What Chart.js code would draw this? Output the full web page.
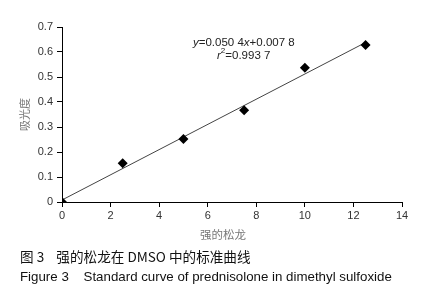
<!DOCTYPE html>
<html><head><meta charset="utf-8">
<script src="https://cdn.jsdelivr.net/npm/chart.js@4/dist/chart.umd.min.js"></script>
<style>html,body{margin:0;padding:0;background:#fff}#wrap{width:421px;height:300px}</style>
</head><body><div id="wrap"><canvas id="c" width="421" height="300"></canvas></div>
<script>
const concentrations = [0, 2.5, 5, 7.5, 10, 12.5];
const absorbance = [0, 0.155, 0.252, 0.367, 0.537, 0.628];
const trendX = [0, 12.5];
const trendY = [0.008, 0.638];
const xTicks = [0, 2, 4, 6, 8, 10, 12, 14];
const yTicks = [0, 0.1, 0.2, 0.3, 0.4, 0.5, 0.6, 0.7];
const xTitle = '强的松龙';
const yTitle = '吸光度';
const eqLine1 = ['y', '=0.050 4', 'x', '+0.007 8'];
const eqLine2 = 'r²=0.993 7';
const caption1 = '图 3    强的松龙在 DMSO 中的标准曲线';
const caption2 = 'Figure 3    Standard curve of prednisolone in dimethyl sulfoxide';

const FONT = '"Liberation Sans", Arial, "Noto Sans CJK SC", sans-serif';

const extras = {
  id: 'extras',
  afterDraw(chart) {
    const ctx = chart.ctx;
    const area = chart.chartArea;
    ctx.save();
    // y title
    ctx.fillStyle = '#777';
    ctx.font = '11px "Noto Sans CJK SC", sans-serif';
    ctx.textAlign = 'center';
    ctx.textBaseline = 'middle';
    ctx.save();
    ctx.translate(25, (area.top + area.bottom) / 2);
    ctx.rotate(-Math.PI / 2);
    ctx.fillText(yTitle, 0, 0);
    ctx.restore();
    // x title
    ctx.font = '11.5px "Noto Sans CJK SC", sans-serif';
    ctx.fillText(xTitle, 223, 235);
    // equation
    ctx.fillStyle = '#222';
    ctx.textAlign = 'left';
    let x = 193;
    const styles = ['italic ', '', 'italic ', ''];
    eqLine1.forEach((t, i) => {
      ctx.font = styles[i] + '11.5px ' + FONT;
      ctx.fillText(t, x, 43);
      x += ctx.measureText(t).width;
    });
    ctx.font = 'italic 11.5px ' + FONT;
    ctx.fillText('r', 217, 56);
    let rw = ctx.measureText('r').width;
    ctx.font = '8px ' + FONT;
    ctx.fillText('2', 217 + rw, 51);
    let w2 = ctx.measureText('2').width;
    ctx.font = '11.5px ' + FONT;
    ctx.fillText(eqLine2.slice(2), 217 + rw + w2, 56);
    // captions
    ctx.fillStyle = '#111';
    ctx.font = '13.6px "Noto Sans CJK SC", ' + FONT;
    ctx.fillText(caption1, 20, 257);
    ctx.font = '13.3px ' + FONT;
    ctx.fillText(caption2, 20, 277);
    ctx.restore();
  }
};

new Chart(document.getElementById('c'), {
  type: 'scatter',
  data: {
    datasets: [
      {
        type: 'line',
        data: trendX.map((v, i) => ({x: v, y: trendY[i]})),
        borderColor: '#444',
        borderWidth: 1,
        pointRadius: 0,
        fill: false,
        order: 2
      },
      {
        data: concentrations.map((v, i) => ({x: v, y: absorbance[i]})),
        pointStyle: 'rectRot',
        pointRadius: 5,
        backgroundColor: '#000',
        borderColor: '#000',
        borderWidth: 0,
        order: 1
      }
    ]
  },
  options: {
    responsive: false,
    animation: false,
    events: [],
    layout: {padding: {left: 0, right: 19, top: 27, bottom: 58}},
    plugins: {legend: {display: false}, tooltip: {enabled: false}},
    scales: {
      x: {
        type: 'linear', min: 0, max: 14,
        afterBuildTicks(s) { s.ticks = xTicks.map(v => ({value: v})); },
        afterFit(s) { s.height = 40; },
        grid: {drawOnChartArea: false, drawTicks: true, tickLength: 5, color: '#000'},
        border: {color: '#000', width: 1},
        ticks: {color: '#333', font: {family: FONT, size: 11}, padding: 2, maxRotation: 0}
      },
      y: {
        type: 'linear', min: 0, max: 0.7,
        afterBuildTicks(s) { s.ticks = yTicks.map(v => ({value: v})); },
        afterFit(s) { s.width = 62; },
        grid: {drawOnChartArea: false, drawTicks: true, tickLength: 5, color: '#000'},
        border: {color: '#000', width: 1},
        ticks: {color: '#333', font: {family: FONT, size: 11}, padding: 4,
          callback: v => String(Math.round(v * 10) / 10)}
      }
    }
  },
  plugins: [extras]
});
</script></body></html>
